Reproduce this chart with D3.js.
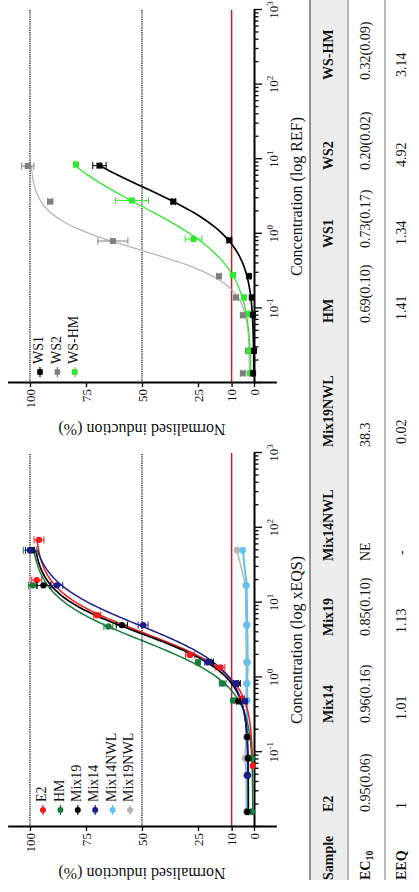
<!DOCTYPE html>
<html><head><meta charset="utf-8">
<script src="https://cdn.jsdelivr.net/npm/d3@7"></script>
<style>
body{margin:0;background:#fff}
svg{display:block}
svg text{font-family:"Liberation Serif","Times New Roman","DejaVu Serif",serif !important;fill:#111}
</style>
</head><body>
<svg id="c" width="419" height="892"></svg>
<script>
// ---------- DATA ----------
// Left panel: concentration (xEQS), normalised induction (%), error (%)
const e2Conc   = [0.066, 0.52, 1.36, 2.0, 6.8, 20, 69];
const e2Val    = [0.5, 5.3, 15, 28.6, 70, 97, 96];
const e2Err    = [0.5, 1, 2, 2, 1.5, 2.2, 2.2];
const hmConc   = [0.016, 0.083, 0.49, 0.83, 1.6, 4.8, 17, 50];
const hmVal    = [0.9, 0.9, 9.4, 14, 25, 65, 98.7, 100];
const hmErr    = [0.5, 0.5, 0.8, 1.5, 1, 2, 2, 3];
const mix19Conc = [0.016, 0.049, 0.083, 0.16, 0.48, 0.83, 1.6, 5, 17, 50];
const mix19Val  = [3, 3, 2.7, 3, 7, 7.6, 19.6, 59, 94, 99];
const mix19Err  = [0.5, 0.5, 0.5, 0.5, 0.8, 1.5, 1.5, 2.5, 3, 1];
const mix14Conc = [0.049, 0.48, 0.83, 1.6, 5, 17, 50];
const mix14Val  = [2.7, 4, 8, 20.5, 49.5, 88, 100];
const mix14Err  = [0.5, 1, 1, 1.5, 2.2, 2.6, 2];
const mix14nwlConc = [0.016, 0.049, 0.16, 0.49, 0.83, 1.6, 5, 17, 50];
const mix14nwlVal  = [3, 3, 3, 3, 3, 2.8, 3, 3.3, 5];
const mix14nwlErr  = [0.4, 0.4, 0.4, 0.4, 0.4, 0.4, 0.4, 0.4, 0.5];
const mix19nwlConc = [0.016, 0.049, 0.083, 0.16, 0.49, 0.83, 1.6, 5, 17, 50];
const mix19nwlVal  = [3.5, 3.5, 4, 3.5, 3.5, 3.5, 3.5, 3.6, 3.8, 7.6];
const mix19nwlErr  = [0.4, 0.4, 0.4, 0.4, 0.4, 0.4, 0.4, 0.4, 0.4, 0.6];
// Right panel: concentration (REF)
const ws1Conc = [0.0135, 0.027, 0.082, 0.14, 0.27, 0.82, 2.7, 8.2];
const ws1Val  = [0.4, 0, 0.5, 1, 2.2, 11, 36, 69];
const ws1Err  = [0.3, 0.3, 0.3, 0.5, 0.5, 1, 1, 3];
const ws2Conc = [0.0135, 0.027, 0.081, 0.14, 0.27, 0.8, 2.7, 8.1];
const ws2Val  = [5, 2.7, 5, 8, 15.6, 63, 91, 101];
const ws2Err  = [1, 0.8, 0.8, 1, 1, 6.7, 1.2, 2.7];
const wshmConc = [0.0135, 0.027, 0.084, 0.14, 0.28, 0.85, 2.8, 8.5];
const wshmVal  = [1.8, 2.2, 2.2, 4.5, 9.4, 27, 54.5, 79.5];
const wshmErr  = [0.3, 0.3, 0.3, 0.8, 1, 3.7, 7.4, 0.8];
// Fitted dose-response (bottom, top, EC50, Hill slope); null = connected points
const fitE2    = [0.5, 98, 3.94, 1.55];
const fitHM    = [0.5, 100, 3.13, 1.45];
const fitMix19 = [2.5, 99, 3.9, 1.6];
const fitMix14 = [2.5, 100, 5.0, 1.45];
const fitWS1   = [0, 100, 4.3, 1.24];
const fitWS2   = [2, 100, 0.61, 1.97];
const fitWSHM  = [1, 100, 2.38, 1.1];
// Axes
const yTickValues = [0, 10, 25, 50, 75, 100];
const xDecades = [0.1, 1, 10, 100, 1000];
const refLines = [50, 100];
const thresholdLine = 10;
// Table
const tableHeaders = ["Sample","E2","Mix14","Mix19","Mix14NWL","Mix19NWL","HM","WS1","WS2","WS-HM"];
const ec10Row = ["0.95(0.06)","0.96(0.16)","0.85(0.10)","NE","38.3","0.69(0.10)","0.73(0.17)","0.20(0.02)","0.32(0.09)"];
const eeqRow  = ["1","1.01","1.13","-","0.02","1.41","1.34","4.92","3.14"];

// ---------- LAYOUT ----------
const FONT = '"Liberation Serif","Times New Roman","DejaVu Serif",serif';
const svg = d3.select("#c");
// figure is drawn landscape (892 x 419) then rotated 90° counter-clockwise
const root = svg.append("g").attr("transform","translate(0,892) rotate(-90)").attr("font-family",FONT);

const y = d3.scaleLinear().domain([-10,110]).range([276.4,7.6]);

function hill(p, c){ return p[0] + (p[1]-p[0])/(1+Math.pow(p[2]/c, p[3])); }

function txt(sel){ return sel.append("text").style("font-family",FONT); }

function drawPanel(opt){
  const x = d3.scaleLog().domain([0.01,1000]).range([opt.x0, opt.x1]);
  const g = root.append("g");
  refLines.forEach(v=>{
    g.append("line").attr("x1",x(0.01)).attr("x2",x(1000)).attr("y1",y(v)).attr("y2",y(v))
      .attr("stroke","#111").attr("stroke-width",1.3).attr("stroke-dasharray","1.2,1");
  });
  g.append("line").attr("x1",x(0.01)).attr("x2",x(1000)).attr("y1",y(thresholdLine)).attr("y2",y(thresholdLine))
    .attr("stroke","#b3262a").attr("stroke-width",1.5);

  // x axis at y=0
  const xa = d3.axisBottom(x).tickValues(x.ticks()).tickSizeOuter(0).tickFormat(()=> "");
  const gx = g.append("g").attr("transform",`translate(0,${y(0)})`).call(xa);
  gx.select(".domain").attr("stroke","#000").attr("stroke-width",2);
  gx.selectAll(".tick line").attr("stroke","#000").attr("stroke-width",1.3)
    .attr("y2", d => Math.abs(Math.log10(d)-Math.round(Math.log10(d)))<1e-6 ? 8 : 4.5);
  xDecades.forEach(d=>{
    const t = txt(g).attr("x",x(d)).attr("y",y(0)+24).attr("text-anchor","middle").attr("font-size",13);
    t.append("tspan").text("10");
    t.append("tspan").attr("dy",-5).attr("font-size",9).text(String(Math.round(Math.log10(d))));
  });
  txt(g).attr("x",(opt.x0+opt.x1)/2).attr("y",302).attr("text-anchor","middle")
    .attr("font-size",16).text(opt.xLabel);

  // y axis
  const ya = d3.axisLeft(y).tickValues(yTickValues).tickSize(4).tickSizeOuter(0).tickPadding(2);
  const gy = g.append("g").attr("transform",`translate(${opt.x0},0)`).call(ya);
  gy.attr("font-family",FONT);
  gy.select(".domain").attr("stroke","#000").attr("stroke-width",2);
  gy.selectAll(".tick line").attr("stroke","#000").attr("stroke-width",1.3);
  gy.selectAll(".tick text").attr("font-size",13).style("font-family",FONT).attr("fill","#111");
  txt(g).attr("transform",`translate(${opt.x0-45},${y(50)}) rotate(-90)`)
    .attr("text-anchor","middle").attr("dominant-baseline","middle").attr("font-size",16)
    .text("Normalised induction (%)");

  // curves (drawing order separate from legend order)
  opt.drawOrder.map(i=>opt.series[i]).forEach(s=>{
    let pts;
    if (s.fit){
      const lo = Math.log10(d3.min(s.conc)), hi = Math.log10(d3.max(s.conc));
      pts = d3.range(0,121).map(i=>{ const c = Math.pow(10, lo + (hi-lo)*i/120); return [c, hill(s.fit,c)]; });
    } else {
      pts = s.conc.map((c,i)=>[c, s.val[i]]);
    }
    g.append("path").datum(pts)
      .attr("d", d3.line().x(d=>x(d[0])).y(d=>y(d[1])))
      .attr("fill","none").attr("stroke",s.line).attr("stroke-width",s.lw||1.5);
  });
  // points + error bars
  opt.drawOrder.map(i=>opt.series[i]).forEach(s=>{
    const pg = g.append("g");
    s.conc.forEach((c,i)=>{
      const cx = x(c), v = s.val[i], e = s.err[i];
      pg.append("line").attr("x1",cx).attr("x2",cx).attr("y1",y(v-e)).attr("y2",y(v+e)).attr("stroke",s.color).attr("stroke-width",1);
      [v-e, v+e].forEach(w=> pg.append("line").attr("x1",cx-3.5).attr("x2",cx+3.5).attr("y1",y(w)).attr("y2",y(w)).attr("stroke",s.color).attr("stroke-width",1));
      if (opt.shape==="square") pg.append("rect").attr("x",cx-3).attr("y",y(v)-3).attr("width",6).attr("height",6).attr("fill",s.color);
      else pg.append("circle").attr("cx",cx).attr("cy",y(v)).attr("r",3.2).attr("fill",s.color);
    });
  });
  // legend
  opt.series.forEach((s,i)=>{
    const ly = opt.legendY0 + i*opt.legendStep, lx = opt.legendX;
    g.append("line").attr("x1",lx-5).attr("x2",lx+5).attr("y1",ly).attr("y2",ly).attr("stroke",s.color).attr("stroke-width",1.2);
    if (opt.shape==="square") g.append("rect").attr("x",lx-2.8).attr("y",ly-2.8).attr("width",5.6).attr("height",5.6).attr("fill",s.color);
    else g.append("circle").attr("cx",lx).attr("cy",ly).attr("r",3).attr("fill",s.color);
    txt(g).attr("x",lx+8).attr("y",ly).attr("dominant-baseline","middle").attr("font-size",14).text(s.name);
  });
}

drawPanel({
  x0:65, x1:439, shape:"circle", legendX:82, legendY0:43, legendStep:17.4,
  xLabel:"Concentration (log xEQS)",
  drawOrder:[5,4,1,0,2,3],
  series:[
    {name:"E2", conc:e2Conc, val:e2Val, err:e2Err, color:"#ee1c1c", line:"#ee1c1c", fit:fitE2},
    {name:"HM", conc:hmConc, val:hmVal, err:hmErr, color:"#177a3e", line:"#177a3e", fit:fitHM},
    {name:"Mix19", conc:mix19Conc, val:mix19Val, err:mix19Err, color:"#000", line:"#000", fit:fitMix19, lw:1.7},
    {name:"Mix14", conc:mix14Conc, val:mix14Val, err:mix14Err, color:"#1c1c8c", line:"#1c1c8c", fit:fitMix14},
    {name:"Mix14NWL", conc:mix14nwlConc, val:mix14nwlVal, err:mix14nwlErr, color:"#5cc3f2", line:"#5cc3f2", fit:null, lw:2},
    {name:"Mix19NWL", conc:mix19nwlConc, val:mix19nwlVal, err:mix19nwlErr, color:"#b5b5b5", line:"#b5b5b5", fit:null}
  ]
});

drawPanel({
  x0:509, x1:882, shape:"square", legendX:520, legendY0:40, legendStep:17.4,
  xLabel:"Concentration (log REF)",
  drawOrder:[1,2,0],
  series:[
    {name:"WS1", conc:ws1Conc, val:ws1Val, err:ws1Err, color:"#000", line:"#000", fit:fitWS1, lw:1.7},
    {name:"WS2", conc:ws2Conc, val:ws2Val, err:ws2Err, color:"#808080", line:"#b5b5b5", fit:fitWS2, lw:1.3},
    {name:"WS-HM", conc:wshmConc, val:wshmVal, err:wshmErr, color:"#2ee82e", line:"#2ee82e", fit:fitWSHM, lw:1.3}
  ]
});

// ---------- TABLE ----------
const colX = [12, 80, 169, 256, 331, 445, 569, 644, 722, 812];
const tg = root.append("g");
tg.append("rect").attr("x",12).attr("y",310).attr("width",880).attr("height",38).attr("fill","#ececec");
tg.append("line").attr("x1",12).attr("x2",892).attr("y1",310).attr("y2",310).attr("stroke","#7a7a7a").attr("stroke-width",1.6);
tg.append("line").attr("x1",12).attr("x2",892).attr("y1",348).attr("y2",348).attr("stroke","#8a8a8a").attr("stroke-width",1.2);
tg.append("line").attr("x1",12).attr("x2",892).attr("y1",385).attr("y2",385).attr("stroke","#8a8a8a").attr("stroke-width",1.2);
tableHeaders.forEach((h,i)=>{
  txt(tg).attr("x",colX[i]).attr("y",330).attr("dominant-baseline","middle")
    .attr("font-size",14).attr("font-weight","bold").text(h);
});
const ec = txt(tg).attr("x",colX[0]).attr("y",367).attr("dominant-baseline","middle").attr("font-size",14).attr("font-weight","bold");
ec.append("tspan").text("EC");
ec.append("tspan").attr("font-size",10).attr("dy",4).text("10");
txt(tg).attr("x",colX[0]).attr("y",403).attr("dominant-baseline","middle").attr("font-size",14).attr("font-weight","bold").text("EEQ");
ec10Row.forEach((v,i)=> txt(tg).attr("x",colX[i+1]).attr("y",367).attr("dominant-baseline","middle").attr("font-size",14).text(v));
eeqRow.forEach((v,i)=> txt(tg).attr("x",colX[i+1]+(v==="-"?6:3)).attr("y",403).attr("dominant-baseline","middle").attr("font-size",14).text(v));
</script>
</body></html>
